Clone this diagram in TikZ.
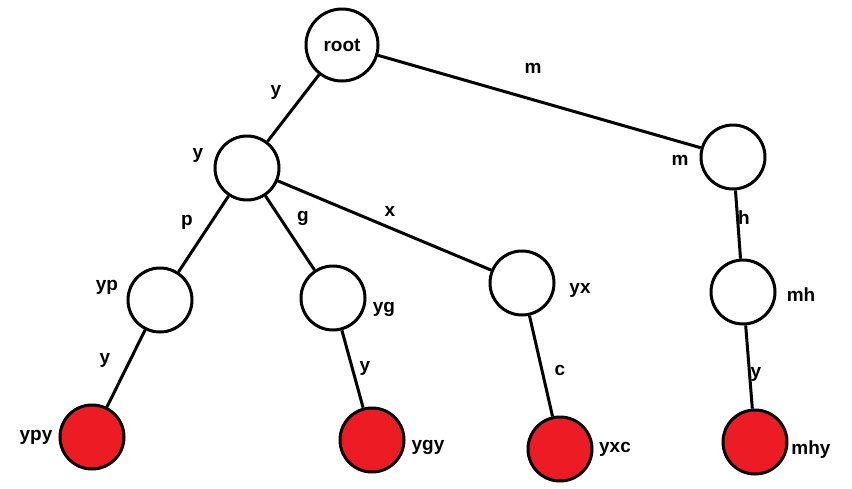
\documentclass[tikz,border=0pt]{standalone}
\usepackage{fontspec}
\setmainfont{Liberation Sans}
\begin{document}
\begin{tikzpicture}[x=1pt,y=-1pt,
  nd/.style={circle,draw=black,line width=3pt,fill=white,minimum size=64pt,inner sep=0pt},
  leaf/.style={nd,fill=pred},
  lb/.style={font=\bfseries\fontsize{19}{19}\selectfont},
  ed/.style={line width=3pt}]
\definecolor{pred}{HTML}{ED1C24}
\useasboundingbox (0,0) rectangle (852,488);
\node[nd,minimum size=72pt] (root) at (342,45) {};
\node[nd] (y) at (247,168) {};
\node[nd] (m) at (733,157) {};
\node[nd] (yp) at (160,300) {};
\node[nd] (yg) at (333,298) {};
\node[nd] (yx) at (522,283) {};
\node[nd] (mh) at (743,292) {};
\node[leaf] (ypy) at (92,437) {};
\node[leaf] (ygy) at (372,440) {};
\node[leaf] (yxc) at (560,449) {};
\node[leaf] (mhy) at (755,442) {};
\foreach \a/\b in {root/y,root/m,y/yp,y/yg,y/yx,m/mh,yp/ypy,yg/ygy,yx/yxc,mh/mhy}
  \draw[ed] (\a) -- (\b);
\node[lb] (troot) at (342,45) {root};
\node[lb] (e1) at (276,92) {y};
\node[lb] (e2) at (533,68) {m};
\node[lb] (ly) at (198,155) {y};
\node[lb] (lm) at (680,160) {m};
\node[lb] (e3) at (187,222) {p};
\node[lb] (e4) at (303,218) {g};
\node[lb] (e5) at (390,211) {x};
\node[lb] (e6) at (744,218) {h};
\node[lb] (lyp) at (107,287) {yp};
\node[lb] (lyg) at (384,309) {yg};
\node[lb] (lyx) at (580,290) {yx};
\node[lb] (lmh) at (801,295) {mh};
\node[lb] (e7) at (105,360) {y};
\node[lb] (e8) at (365,368) {y};
\node[lb] (e9) at (560,370) {c};
\node[lb] (e10) at (756,374) {y};
\node[lb] (lypy) at (36,437) {ypy};
\node[lb] (lygy) at (428,447) {ygy};
\node[lb] (lyxc) at (615,449) {yxc};
\node[lb] (lmhy) at (811,450) {mhy};
\end{tikzpicture}
\end{document}
